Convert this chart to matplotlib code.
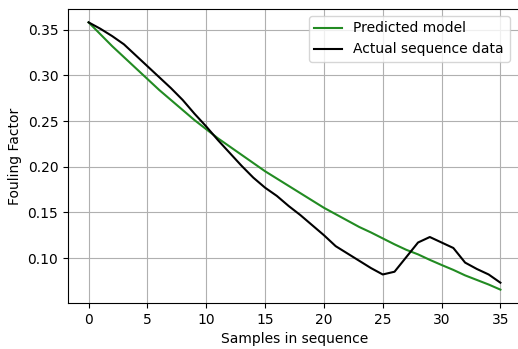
import matplotlib
matplotlib.use("Agg")
import matplotlib.pyplot as plt

samples = list(range(36))
predicted = [0.358, 0.345, 0.332, 0.320, 0.308, 0.296,
             0.284, 0.273, 0.262, 0.251, 0.241,
             0.231, 0.222, 0.213, 0.204, 0.195,
             0.187, 0.179, 0.171, 0.163, 0.155,
             0.148, 0.141, 0.134, 0.128, 0.1215,
             0.115, 0.109, 0.104, 0.098, 0.0924,
             0.087, 0.081, 0.076, 0.071, 0.0654]
actual = [0.358, 0.351, 0.343, 0.334, 0.322, 0.310,
          0.298, 0.286, 0.273, 0.258, 0.244,
          0.229, 0.215, 0.201, 0.188, 0.177,
          0.168, 0.157, 0.147, 0.136, 0.125,
          0.113, 0.105, 0.097, 0.089, 0.082,
          0.085, 0.101, 0.117, 0.123, 0.117,
          0.111, 0.095, 0.088, 0.082, 0.073]

fig = plt.figure(figsize=(5.18, 3.49), dpi=100)
ax = fig.add_axes([68 / 518, 46 / 349, 453 / 518, 294 / 349])
ax.plot(samples, predicted, color="forestgreen", label="Predicted model")
ax.plot(samples, actual, color="black", label="Actual sequence data")
ax.set_xlabel("Samples in sequence")
ax.set_ylabel("Fouling Factor")
ax.grid(True)
ax.legend(loc="upper right", bbox_to_anchor=(0.99, 1.0))
fig.savefig("out.png")
